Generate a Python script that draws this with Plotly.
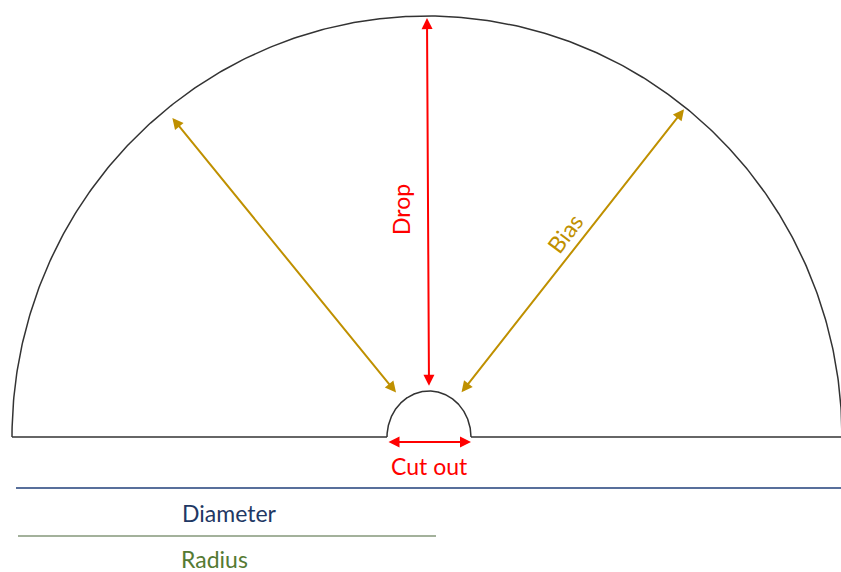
import numpy as np
import plotly.graph_objects as go

# ---- diagram definition (pixel-like units, y grows downward) ----
W, H = 841, 572
outer_center = [427, 437]
outer_radii = [415, 421]          # rx, ry
inner_center = [429, 437]
inner_radii = [42, 46]
baseline_y = 437
baseline_x = [12, 841]

# radial arrows: angle (deg), fraction of outer radius at tip, inner-radius multiple at tail, colour
arrow_angles = [129, 90, 51.5]
arrow_outer_frac = [0.975, 0.995, 0.995]
arrow_inner_mult = [1.2, 1.08, 1.2]
arrow_colors = ["#BF9000", "#FF0000", "#BF9000"]

cut_y = 442
dim_lines_y = [488, 536]
dim_lines_x0 = [16, 18]
dim_lines_x1 = [841, 436]
dim_colors = ["#203F7A", "#84977A"]

labels = ["Drop", "Bias", "Cut out", "Diameter", "Radius"]
label_pos = [(401, 210), (565, 233), (429, 466), (229, 513), (214, 559)]
label_angle = [-90, -53, 0, 0, 0]
label_colors = ["#FF0000", "#BF9000", "#FF0000", "#1F3864", "#557A33"]

FONT = "Lato"
FSIZE = 23
fig = go.Figure()

# outer semicircle
t = np.linspace(0, np.pi, 400)
fig.add_trace(go.Scatter(
    x=outer_center[0] + outer_radii[0] * np.cos(t),
    y=outer_center[1] - outer_radii[1] * np.sin(t),
    mode="lines", line=dict(color="#333333", width=1.5), hoverinfo="skip"))
# inner semicircle
fig.add_trace(go.Scatter(
    x=inner_center[0] + inner_radii[0] * np.cos(t),
    y=inner_center[1] - inner_radii[1] * np.sin(t),
    mode="lines", line=dict(color="#333333", width=1.5), hoverinfo="skip"))
# baseline (two segments)
fig.add_trace(go.Scatter(
    x=[baseline_x[0], inner_center[0] - inner_radii[0], None,
       inner_center[0] + inner_radii[0], baseline_x[1]],
    y=[baseline_y, baseline_y, None, baseline_y, baseline_y],
    mode="lines", line=dict(color="#333333", width=1.5), hoverinfo="skip"))

# dimension lines
for x0, x1, yy, c in zip(dim_lines_x0, dim_lines_x1, dim_lines_y, dim_colors):
    fig.add_trace(go.Scatter(x=[x0, x1], y=[yy, yy], mode="lines",
                             line=dict(color=c, width=1.5), hoverinfo="skip"))

annotations = []
# radial double-headed arrows
for ang, fo, fi, c in zip(arrow_angles, arrow_outer_frac, arrow_inner_mult, arrow_colors):
    a = np.deg2rad(ang)
    tip_x = outer_center[0] + fo * outer_radii[0] * np.cos(a)
    tip_y = outer_center[1] - fo * outer_radii[1] * np.sin(a)
    tail_x = inner_center[0] + fi * inner_radii[0] * np.cos(a)
    tail_y = inner_center[1] - fi * inner_radii[1] * np.sin(a)
    annotations.append(dict(x=tip_x, y=tip_y, ax=tail_x, ay=tail_y,
                            xref="x", yref="y", axref="x", ayref="y",
                            showarrow=True, arrowhead=2, startarrowhead=2,
                            arrowside="end+start", arrowsize=1.1, startarrowsize=1.1,
                            arrowwidth=2, arrowcolor=c, text=""))
# cut-out arrow
annotations.append(dict(x=inner_center[0] + inner_radii[0], y=cut_y,
                        ax=inner_center[0] - inner_radii[0], ay=cut_y,
                        xref="x", yref="y", axref="x", ayref="y",
                        showarrow=True, arrowhead=2, startarrowhead=2,
                        arrowside="end+start", arrowsize=1.1, startarrowsize=1.1,
                        arrowwidth=2, arrowcolor="#FF0000", text=""))
# labels
for txt, (px, py), ang, c in zip(labels, label_pos, label_angle, label_colors):
    annotations.append(dict(x=px, y=py, xref="x", yref="y", text=txt,
                            showarrow=False, textangle=ang,
                            font=dict(family=FONT, size=FSIZE, color=c),
                            xanchor="center", yanchor="middle"))

fig.update_layout(
    width=W, height=H, margin=dict(l=0, r=0, t=0, b=0),
    paper_bgcolor="white", plot_bgcolor="white", showlegend=False,
    xaxis=dict(range=[0, W], visible=False, fixedrange=True),
    yaxis=dict(range=[H, 0], visible=False, fixedrange=True),
    annotations=annotations)

fig.write_html("out.html", config={"displayModeBar": False},
               post_script="document.body.style.margin='0';document.body.style.overflow='hidden';")
